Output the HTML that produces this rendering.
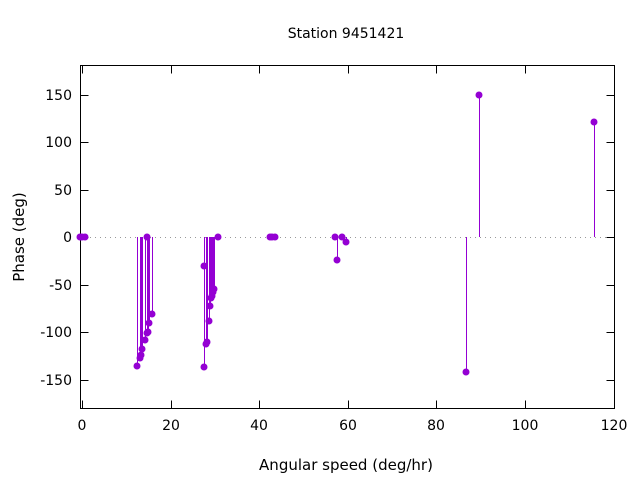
<!DOCTYPE html>
<html><head><style>body{margin:0;background:#fff}svg{display:block;font-family:"DejaVu Sans","Liberation Sans",sans-serif}</style></head>
<body>
<svg width="640" height="480" xmlns="http://www.w3.org/2000/svg">
<rect width="640" height="480" fill="#fff"/>
<text x="346" y="38" font-size="14" text-anchor="middle">Station 9451421</text>
<line x1="80" y1="237.5" x2="614" y2="237.5" stroke="#999" stroke-dasharray="1,4"/>
<g stroke="#000" stroke-width="1" transform="translate(0.5,0.5)">
<rect x="80" y="65" width="534" height="343" fill="none"/>
<path d="M80 95h8M80 142h8M80 190h8M80 237h8M80 285h8M80 332h8M80 380h8M614 95h-8M614 142h-8M614 190h-8M614 237h-8M614 285h-8M614 332h-8M614 380h-8"/>
<path d="M82 408v-8M171 408v-8M259 408v-8M348 408v-8M436 408v-8M525 408v-8M614 408v-8M82 65v8M171 65v8M259 65v8M348 65v8M436 65v8M525 65v8"/>
</g>
<g font-size="14" text-anchor="end">
<text x="72" y="100">150</text><text x="72" y="147">100</text><text x="72" y="195">50</text><text x="72" y="242">0</text><text x="72" y="290">-50</text><text x="72" y="337">-100</text><text x="72" y="385">-150</text>
</g>
<g font-size="14" text-anchor="middle">
<text x="82" y="430">0</text><text x="171" y="430">20</text><text x="259" y="430">40</text><text x="348" y="430">60</text><text x="436" y="430">80</text><text x="525" y="430">100</text><text x="614" y="430">120</text>
<text x="346" y="470" font-size="15">Angular speed (deg/hr)</text>
<text transform="translate(24,237) rotate(-90)" font-size="15">Phase (deg)</text>
</g>
<g stroke="#9400d3" stroke-width="1" transform="translate(0.5,0)">
<path d="M137 237V366M140 237V358M141 237V355M142 237V349M145 237V340M147 237V333M148 237V332M149 237V323M152 237V314M204 237V266M204 237V367M206 237V344M207 237V342M209 237V321M210 237V306M211 237V298M212 237V296M213 237V292M214 237V289M337 237V260M346 237V242M466 237V372M479 237V95M594 237V122"/>
</g>
<g fill="#9400d3">
<circle cx="80" cy="237" r="3.5"/><circle cx="82" cy="237" r="3.5"/><circle cx="85" cy="237" r="3.5"/>
<circle cx="137" cy="366" r="3.5"/><circle cx="140" cy="358" r="3.5"/><circle cx="141" cy="355" r="3.5"/><circle cx="142" cy="349" r="3.5"/><circle cx="145" cy="340" r="3.5"/><circle cx="147" cy="333" r="3.5"/><circle cx="148" cy="332" r="3.5"/><circle cx="149" cy="323" r="3.5"/><circle cx="152" cy="314" r="3.5"/><circle cx="147" cy="237" r="3.5"/>
<circle cx="204" cy="266" r="3.5"/><circle cx="204" cy="367" r="3.5"/><circle cx="206" cy="344" r="3.5"/><circle cx="207" cy="342" r="3.5"/><circle cx="209" cy="321" r="3.5"/><circle cx="210" cy="306" r="3.5"/><circle cx="211" cy="298" r="3.5"/><circle cx="212" cy="296" r="3.5"/><circle cx="213" cy="292" r="3.5"/><circle cx="214" cy="289" r="3.5"/><circle cx="218" cy="237" r="3.5"/>
<circle cx="270" cy="237" r="3.5"/><circle cx="272" cy="237" r="3.5"/><circle cx="275" cy="237" r="3.5"/>
<circle cx="335" cy="237" r="3.5"/><circle cx="337" cy="260" r="3.5"/><circle cx="342" cy="237" r="3.5"/><circle cx="346" cy="242" r="3.5"/>
<circle cx="466" cy="372" r="3.5"/><circle cx="479" cy="95" r="3.5"/><circle cx="594" cy="122" r="3.5"/>
</g>
</svg>
</body></html>
